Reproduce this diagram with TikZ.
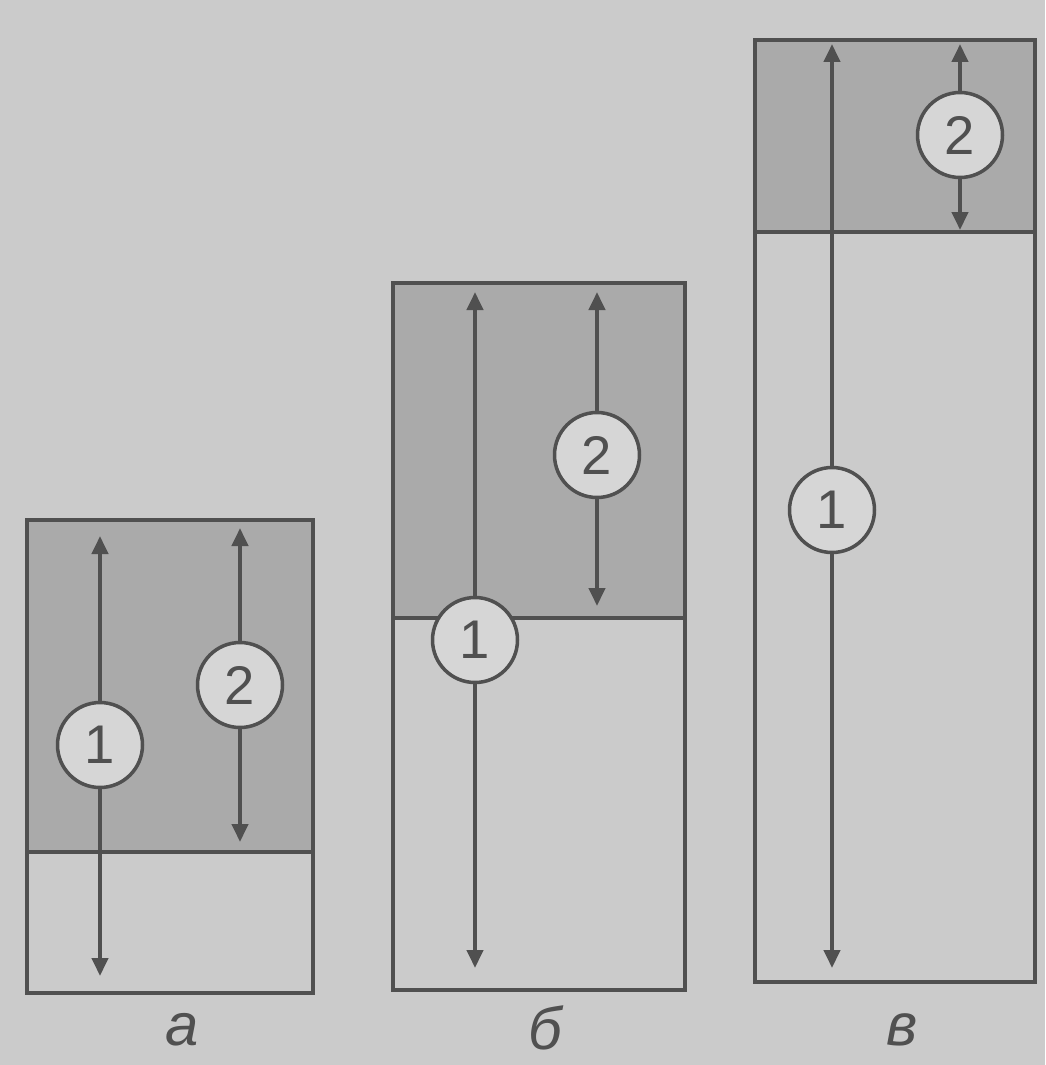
\documentclass[tikz,border=0pt]{standalone}
\usepackage{fontspec}
\setmainfont{Liberation Sans}
\usetikzlibrary{arrows.meta}
\definecolor{paperGray}{RGB}{203,203,203}
\definecolor{shadeGray}{RGB}{170,170,170}
\definecolor{inkGray}{RGB}{80,80,80}
\definecolor{discGray}{RGB}{214,214,214}

\begin{document}
\begin{tikzpicture}[x=0.02cm,y=-0.02cm,
  every node/.style={text=inkGray},
  frame/.style={draw=inkGray,line width=2.8pt},
  disc/.style={circle,draw=inkGray,line width=2pt,fill=discGray,inner sep=0pt,minimum size=1.7cm,font=\fontsize{31}{34}\selectfont},
  dim/.style={draw=inkGray,line width=2.4pt,-{Triangle[length=3.6mm,width=3.2mm]}},
  caption/.style={font=\fontsize{34}{38}\selectfont\itshape}]
\fill[paperGray] (0,0) rectangle (1045,1065);
\useasboundingbox (0,0) rectangle (1045,1065);

% а
\fill[shadeGray] (27,520) rectangle (313,852);
\draw[frame] (27,520) rectangle (313,993);
\draw[frame] (27,852) -- (313,852);
\coordinate (a1top) at (100,536);
\coordinate (a1bot) at (100,976);
\coordinate (a2top) at (240,528);
\coordinate (a2bot) at (240,842);
\node[disc] (a1) at (100,745) {1};
\node[disc] (a2) at (240,685) {2};
\draw[dim] (a1) -- (a1top);
\draw[dim] (a1) -- (a1bot);
\draw[dim] (a2) -- (a2top);
\draw[dim] (a2) -- (a2bot);
\node[caption] (capA) at (182,1030) {а};

% б
\fill[shadeGray] (393,283) rectangle (685,618);
\draw[frame] (393,283) rectangle (685,990);
\draw[frame] (393,618) -- (685,618);
\coordinate (b1top) at (475,292);
\coordinate (b1bot) at (475,968);
\coordinate (b2top) at (597,292);
\coordinate (b2bot) at (597,606);
\node[disc] (b1) at (475,640) {1};
\node[disc] (b2) at (597,455) {2};
\draw[dim] (b1) -- (b1top);
\draw[dim] (b1) -- (b1bot);
\draw[dim] (b2) -- (b2top);
\draw[dim] (b2) -- (b2bot);
\node[caption] (capB) at (545,1028) {б};

% в
\fill[shadeGray] (755,40) rectangle (1035,232);
\draw[frame] (755,40) rectangle (1035,982);
\draw[frame] (755,232) -- (1035,232);
\coordinate (c1top) at (832,44);
\coordinate (c1bot) at (832,968);
\coordinate (c2top) at (960,44);
\coordinate (c2bot) at (960,230);
\node[disc] (c1) at (832,510) {1};
\node[disc] (c2) at (960,135) {2};
\draw[dim] (c1) -- (c1top);
\draw[dim] (c1) -- (c1bot);
\draw[dim] (c2) -- (c2top);
\draw[dim] (c2) -- (c2bot);
\node[caption] (capC) at (902,1030) {в};
\end{tikzpicture}
\end{document}
